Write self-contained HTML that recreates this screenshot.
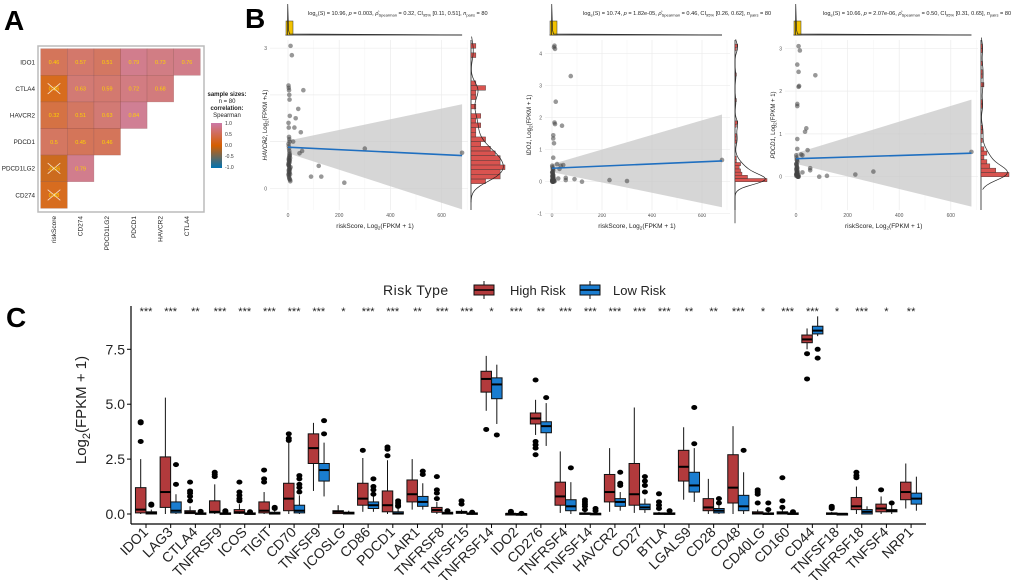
<!DOCTYPE html>
<html><head><meta charset="utf-8"><style>
html,body{margin:0;padding:0;background:#fff;}
svg{display:block;font-family:"Liberation Sans",sans-serif;}
</style></head><body>
<svg id="fig" width="1020" height="580" viewBox="0 0 1020 580" xmlns="http://www.w3.org/2000/svg">
<rect width="1020" height="580" fill="#fff"/>
<text x="4" y="30" font-size="28" font-weight="bold">A</text>
<text x="245" y="28" font-size="28" font-weight="bold">B</text>
<text x="6" y="327" font-size="28" font-weight="bold">C</text>
<g id="pa"></g>
<g id="pb"></g>
<g id="pc"></g>
</svg>
<script>
const NS="http://www.w3.org/2000/svg";
function mk(p,t,a){const e=document.createElementNS(NS,t);for(const k in a)e.setAttribute(k,a[k]);p.appendChild(e);return e;}

// ---------- Panel A data ----------
const heatRows=["IDO1","CTLA4","HAVCR2","PDCD1","PDCD1LG2","CD274"];
const heatCols=["riskScore","CD274","PDCD1LG2","PDCD1","HAVCR2","CTLA4"];
const heatVals=[[0.46,0.57,0.51,0.79,0.73,0.76],[0.06,0.63,0.59,0.72,0.68],[0.32,0.51,0.63,0.84],[0.5,0.45,0.46],[-0.06,0.79],[0.08]];
const heatCrossRows=[1,4,5];

// ---------- Panel B data ----------
const sc1X=[10,15,60,40,30,50,25,20,45,55,90,130,120,220,300,680,2,3,4,5,6,7,2,3,4,5,6,2,3,4,5,6,7,8,3,4,5,6,2,3,4,5,6,7,3,4,5,2,3,4,5,6,8,9,10,3,4,5,6,7,2,4,6,8];
const sc1Y=[3.05,2.85,2.1,1.7,1.5,1.2,1.3,1.0,0.75,0.8,0.25,0.25,0.48,0.12,0.85,0.76,2.2,2.15,2.1,2.0,1.9,1.55,1.4,1.3,1.1,1.05,1.0,0.95,0.9,0.85,0.8,0.75,0.7,0.65,0.62,0.6,0.58,0.55,0.52,0.5,0.48,0.45,0.42,0.4,0.38,0.35,0.32,0.3,0.28,0.25,0.22,0.2,0.18,0.15,0.45,0.55,0.65,0.68,0.72,0.6,0.5,0.4,0.35,0.3];
const sc2X=[8,10,12,75,15,10,12,40,5,5,8,5,20,35,45,30,25,55,55,90,120,230,300,680,1,2,3,4,5,1,2,3,4,5,1,2,3,4,5,1,2,3,4,5,1,2,3,4,5,1,2,3,4,5,6,7,8,9,10,2,3];
const sc2Y=[4.2,4.25,4.15,3.3,2.5,1.85,1.8,1.75,1.45,1.35,1.2,0.75,0.55,0.5,0.52,0.4,0.1,0.12,0.05,0.08,0,0.05,0.02,0.68,0.5,0.45,0.4,0.38,0.35,0.3,0.28,0.25,0.22,0.2,0.18,0.15,0.12,0.1,0.08,0.06,0.05,0.04,0.03,0.02,0.01,0,0,0,0,0.02,0.05,0.08,0.1,0.15,0.12,0.06,0.03,0.02,0.01,0.3,0.2];
const sc3X=[10,15,5,10,75,10,12,5,5,40,35,5,5,45,20,25,55,55,25,90,120,230,300,680,1,2,3,4,5,1,2,3,4,5,1,2,3,4,5,1,2,3,4,5,6,7,8,9,10,1,2,3,4,5,6,8,10,2,3];
const sc3Y=[3.05,2.95,2.62,2.45,2.37,2.1,2.12,1.7,1.65,1.13,1.05,0.88,0.65,0.62,0.52,0.5,0.2,0.15,0.1,0,0.02,0.05,0.12,0.58,0.5,0.45,0.4,0.38,0.35,0.3,0.28,0.25,0.22,0.2,0.18,0.15,0.12,0.1,0.08,0.06,0.05,0.04,0.03,0.02,0.01,0,0,0,0,0.02,0.05,0.08,0.1,0.15,0.12,0.06,0.03,0.3,0.2];
const fitStart=[0.88,0.42,0.42];
const fitEnd=[0.70,0.65,0.55];
const bandEndHi=[1.8,2.1,1.8];
const bandEndLo=[-0.45,-0.8,-0.7];
const bandStartHi=[1.02,0.55,0.55];
const bandStartLo=[0.75,0.3,0.3];
const statTexts=[["10.96","0.003","0.32","[0.11, 0.51]"],["10.74","1.82e-05","0.46","[0.26, 0.62]"],["10.66","2.07e-06","0.50","[0.31, 0.65]"]];
const yGenes=["HAVCR2","IDO1","PDCD1"];
const yTicks1=[0,1,2,3], yTicks2=[-1,0,1,2,3,4], yTicks3=[0,1,2,3];
const xTicksB=[0,200,400,600];

// ---------- Panel C data ----------
const genes=["IDO1","LAG3","CTLA4","TNFRSF9","ICOS","TIGIT","CD70","TNFSF9","ICOSLG","CD86","PDCD1","LAIR1","TNFRSF8","TNFSF15","TNFRSF14","IDO2","CD276","TNFRSF4","TNFSF14","HAVCR2","CD27","BTLA","LGALS9","CD28","CD48","CD40LG","CD160","CD44","TNFSF18","TNFRSF18","TNFSF4","NRP1"];
const sigLabels=["***","***","**","***","***","***","***","***","*","***","***","**","***","***","*","***","**","***","***","***","***","***","**","**","***","*","***","***","*","***","*","**"];
const highStats=[[0,0.05,0.2,1.2,2.5],[0,0.3,1.0,2.6,5.3],[0,0.02,0.08,0.15,0.35],[0,0.05,0.1,0.6,1.35],[0,0.03,0.08,0.2,0.45],[0,0.05,0.15,0.55,1.0],[0,0.15,0.7,1.4,3.3],[1.05,2.3,3.0,3.65,4.15],[0,0.02,0.1,0.15,0.4],[0.1,0.4,0.7,1.4,2.55],[0,0.1,0.4,1.05,2.45],[0.2,0.55,0.9,1.55,2.5],[0,0.08,0.18,0.3,0.55],[0,0.03,0.08,0.12,0.2],[4.7,5.55,6.15,6.5,7.2],[0,0,0.01,0.02,0.04],[3.6,4.1,4.35,4.6,5.2],[0.05,0.4,0.8,1.45,2.85],[0,0,0.02,0.05,0.1],[0.1,0.55,1.0,1.8,3.0],[0.05,0.4,0.9,2.3,4.85],[0,0,0.02,0.05,0.1],[0.65,1.5,2.15,2.9,3.95],[0,0.15,0.3,0.7,1.6],[0,0.5,1.2,2.7,4.0],[0,0,0.03,0.1,0.2],[0,0,0.05,0.1,0.25],[7.5,7.8,7.95,8.15,8.45],[0,0,0.02,0.05,0.1],[0,0.2,0.35,0.75,1.25],[0,0.1,0.25,0.45,0.8],[0.25,0.65,1.0,1.45,2.3]];
const lowStats=[[0,0,0.05,0.1,0.2],[0,0.05,0.15,0.55,0.9],[0,0,0.02,0.05,0.1],[0,0,0.02,0.05,0.08],[0,0,0.01,0.05,0.08],[0,0,0.02,0.08,0.2],[0,0.05,0.15,0.4,0.85],[0.8,1.5,2.0,2.3,3.25],[0,0,0.05,0.08,0.15],[0.1,0.25,0.4,0.55,1.0],[0,0,0.02,0.1,0.25],[0.2,0.35,0.55,0.8,1.4],[0,0,0.03,0.08,0.12],[0,0,0.02,0.05,0.06],[4.1,5.25,5.9,6.2,6.8],[0,0,0,0.01,0.02],[3.1,3.7,4.0,4.2,5.05],[0,0.15,0.35,0.65,1.45],[0,0,0.01,0.03,0.06],[0.15,0.35,0.55,0.7,1.0],[0.05,0.2,0.3,0.45,0.7],[0,0,0.01,0.05,0.08],[0.55,1.0,1.3,1.9,3.0],[0,0.05,0.15,0.25,0.4],[0,0.15,0.35,0.85,1.9],[0,0,0.01,0.05,0.1],[0,0,0.01,0.05,0.08],[8.1,8.2,8.35,8.55,9.0],[0,0,0.01,0.02,0.03],[0,0,0.1,0.2,0.35],[0,0.1,0.15,0.2,0.4],[0.15,0.45,0.7,0.95,1.7]];
const highOut=[[4.2,4.15,3.3],[],[1.45,1.05,0.95,0.8,0.6],[1.9,1.8,1.7],[1.45,1.0,0.85,0.7,0.6],[2.0,1.6,1.45],[3.65,3.45,3.35],[],[],[2.9],[3.05,2.95,2.65],[],[1.7,1.1,0.95,0.7],[0.6,0.45],[3.85],[0.12,0.08],[6.1,3.3,3.15,3.0,2.7],[],[0.65,0.55,0.45,0.35,0.2],[],[],[0.92,0.55,0.4,0.25],[],[],[],[1.1,1.0,0.9,0.5],[1.65,0.6,0.3],[7.3,6.15],[0.35,0.3,0.25],[1.9,1.75,1.65],[1.1],[]];
const lowOut=[[0.45,0.4],[2.25,1.35],[0.12],[0.15,0.1],[0.1],[0.3,0.25],[1.75,1.6,1.35,1.2,1.0],[4.25,3.65],[],[1.6,1.25,1.1,0.9],[0.6,0.5,0.4,0.35],[1.95,1.8],[0.15],[0.08],[3.6],[0.03],[5.3],[2.1],[0.25,0.15],[1.9,1.4,1.3],[1.7,1.5,1.3,1.0],[0.15],[4.85,3.2],[0.7,0.5],[2.9],[0.5,0.2],[0.1],[7.5,7.1],[],[],[0.5],[]];
const yTicksC=[0,2.5,5,7.5];
const yTickLabelsC=["0.0","2.5","5.0","7.5"];

// ===== Panel A =====
(function(){
 const g=document.getElementById('pa');
 const fr=mk(g,'rect',{x:38,y:46,width:166,height:166,fill:'none',stroke:'#bbb','stroke-width':1.5});
 
 const x0=40.7,y0=48.7,cs=26.6;
 function col(v){const a=[213,94,0],b=[204,121,167],c=[0,114,178];let t,p,q;if(v>=0){t=v;p=a;q=b;}else{t=-v;p=a;q=c;}
  return 'rgb('+p.map((x,i)=>Math.round(x+(q[i]-x)*t)).join(',')+')';}
 heatRows.forEach((r,i)=>{
  const t=mk(g,'text',{x:35,y:y0+cs*i+cs/2+2.3,'font-size':6.3,'text-anchor':'end',fill:'#222'});t.textContent=r;
  
  heatVals[i].forEach((v,j)=>{
   const x=x0+cs*j,y=y0+cs*i;
   const c=mk(g,'rect',{x:x,y:y,width:cs,height:cs,fill:col(v),stroke:'rgba(120,60,60,0.35)','stroke-width':0.6,opacity:0.92});
   
   if(j===0&&heatCrossRows.includes(i)){
    mk(g,'line',{x1:x+7,y1:y+8,x2:x+cs-7,y2:y+cs-8,stroke:'#fff','stroke-width':0.8,opacity:0.8});
    mk(g,'line',{x1:x+cs-7,y1:y+8,x2:x+7,y2:y+cs-8,stroke:'#fff','stroke-width':0.8,opacity:0.8});
   }
   const lt=mk(g,'text',{x:x+cs/2,y:y+cs/2+2,'font-size':5.5,'text-anchor':'middle',fill:'#FFD200'});lt.textContent=v;
   
  });
 });
 heatCols.forEach((c,j)=>{
  const x=x0+cs*j+cs/2+2;
  const t=mk(g,'text',{x:x,y:216,'font-size':6.5,'text-anchor':'end',fill:'#222',transform:'rotate(-90 '+x+' 216)'});t.textContent=c;
  
 });
 const lg=["sample sizes:","n = 80","correlation:","Spearman"];
 lg.forEach((s,i)=>{const t=mk(g,'text',{x:227,y:96+i*7,'font-size':6,'text-anchor':'middle','font-weight':i%2?'normal':'bold',fill:'#222'});t.textContent=s;
  });
 const defs=mk(g,'defs',{});const gr=mk(defs,'linearGradient',{id:'cbar',x1:0,y1:0,x2:0,y2:1});
 [[0,'rgb(204,121,167)'],[0.5,'rgb(213,94,0)'],[1,'rgb(0,114,178)']].forEach(s=>mk(gr,'stop',{offset:s[0],'stop-color':s[1]}));
 const cb=mk(g,'rect',{x:211,y:123,width:11,height:45,fill:'url(#cbar)'});
 
 ["1.0","0.5","0.0","-0.5","-1.0"].forEach((s,i)=>{const t=mk(g,'text',{x:225,y:125+i*11,'font-size':5,fill:'#333'});t.textContent=s;
  });
})();

// ===== Panel B =====
const plotsB=[
 {X:sc1X,Y:sc1Y,x0:288,xs:0.256,y0v:188.3,ys:46.7,top:40,bot:210,left:270,right:468,ht:yTicks1,hx:471,hw:34,yl:267},
 {X:sc2X,Y:sc2Y,x0:552,xs:0.25,y0v:181.7,ys:32,top:40,bot:210,left:545,right:730,ht:yTicks2,hx:735,hw:32,yl:531},
 {X:sc3X,Y:sc3Y,x0:796,xs:0.258,y0v:176.7,ys:42.8,top:40,bot:210,left:785,right:978,ht:yTicks3,hx:981,hw:28,yl:775}
];
plotsB.forEach((P,k)=>{
 const g=mk(document.getElementById('pb'),'g',{});
 
 const sx=v=>P.x0+v*P.xs, sy=v=>P.y0v-v*P.ys;
 xTicksB.forEach(v=>{mk(g,'line',{x1:sx(v),x2:sx(v),y1:P.top,y2:P.bot,stroke:'#ececec','stroke-width':0.7});
  mk(g,'line',{x1:sx(v+100),x2:sx(v+100),y1:P.top,y2:P.bot,stroke:'#f3f3f3','stroke-width':0.5});
  const t=mk(g,'text',{x:sx(v),y:P.bot+7,'font-size':5,'text-anchor':'middle',fill:'#555'});t.textContent=v;
  });
 P.ht.forEach(v=>{mk(g,'line',{x1:P.left,x2:P.right,y1:sy(v),y2:sy(v),stroke:'#ececec','stroke-width':0.7});
  const t=mk(g,'text',{x:P.left-3,y:sy(v)+2,'font-size':5,'text-anchor':'end',fill:'#555'});t.textContent=v;
  });
 const b=mk(g,'polygon',{points:[sx(0)+','+sy(bandStartHi[k]),sx(680)+','+sy(bandEndHi[k]),sx(680)+','+sy(bandEndLo[k]),sx(0)+','+sy(bandStartLo[k])].join(' '),fill:'#c8c8c8',opacity:0.75});
 
 P.X.forEach((x,i)=>{const c=mk(g,'circle',{cx:sx(x),cy:sy(P.Y[i]),r:2.3,fill:'#444',opacity:0.55});
  });
 const l=mk(g,'line',{x1:sx(0),y1:sy(fitStart[k]),x2:sx(680),y2:sy(fitEnd[k]),stroke:'#1f6fc0','stroke-width':1.6});
 
 mk(g,'line',{x1:sx(-10),x2:sx(680),y1:35,y2:35,stroke:'#222','stroke-width':0.8});
 const yb=mk(g,'rect',{x:sx(0)-2,y:21,width:7,height:14,fill:'#F2C200',stroke:'#333','stroke-width':0.5});
 
 mk(g,'polyline',{points:[sx(-2)+',35',sx(-1)+',4',sx(2)+',30',sx(6)+',34',sx(680)+',35'].join(' '),fill:'none',stroke:'#222','stroke-width':0.7});
 const bins={};P.Y.forEach(v=>{const b=Math.floor(v*10);bins[b]=(bins[b]||0)+1;});
 const mx=Math.max(...Object.values(bins));
 mk(g,'line',{x1:P.hx,x2:P.hx,y1:P.top,y2:P.bot,stroke:'#222','stroke-width':0.8});
 Object.keys(bins).forEach(bk=>{const n=bins[bk];const y1=sy((+bk+1)/10),h=sy(+bk/10)-y1;
  const r=mk(g,'rect',{x:P.hx,y:y1,width:P.hw*n/mx,height:h,fill:'#D9534F',stroke:'#333','stroke-width':0.4});
  });
 let pts=[];const lo=Math.min(...P.ht)-0.3,hi=Math.max(...P.Y)+0.2;
 let dmax=0;const ds=[];
 for(let v=lo;v<=hi;v+=0.05){let d=0;P.Y.forEach(y=>{d+=Math.exp(-((v-y)**2)/(2*0.15*0.15));});ds.push([v,d]);dmax=Math.max(dmax,d);}
 ds.forEach(([v,d])=>pts.push((P.hx+P.hw*0.95*d/dmax)+','+sy(v)));
 mk(g,'polyline',{points:pts.join(' '),fill:'none',stroke:'#222','stroke-width':0.7});
 const s=statTexts[k];
 const t=mk(g,'text',{x:P.left+38,y:15,'font-size':5.6,fill:'#222'});
 
 t.innerHTML='log<tspan font-size="4" dy="1.5">e</tspan><tspan dy="-1.5">(</tspan><tspan font-style="italic">S</tspan>) = '+s[0]+', <tspan font-style="italic">p</tspan> = '+s[1]+', <tspan font-style="italic">ρ̂</tspan><tspan font-size="4" dy="1.5">Spearman</tspan><tspan dy="-1.5"> = '+s[2]+', CI</tspan><tspan font-size="4" dy="1.5">95%</tspan><tspan dy="-1.5"> '+s[3]+', </tspan><tspan font-style="italic">n</tspan><tspan font-size="4" dy="1.5">pairs</tspan><tspan dy="-1.5"> = 80</tspan>';
 const xt=mk(g,'text',{x:(sx(0)+sx(680))/2,y:228,'font-size':6.5,'text-anchor':'middle',fill:'#222'});
 
 xt.innerHTML='riskScore, Log<tspan font-size="4.5" dy="1.5">2</tspan><tspan dy="-1.5">(FPKM + 1)</tspan>';
 const yt=mk(g,'text',{x:P.yl,y:125,'font-size':6,'text-anchor':'middle',fill:'#222',transform:'rotate(-90 '+P.yl+' 125)'});
 
 yt.innerHTML='<tspan font-style="italic">'+yGenes[k]+'</tspan>, Log<tspan font-size="4.5" dy="1.5">2</tspan><tspan dy="-1.5">(FPKM + 1)</tspan>';
});

// ===== Panel C =====
(function(){
 const g=document.getElementById('pc');
 const yS=v=>514-v*21.96;
 const xS=i=>146+i*24.68;
 const HC='#B23A3C',LC='#1A7DD0';
 mk(g,'line',{x1:131,x2:926,y1:524,y2:524,stroke:'#000','stroke-width':1.2});
 mk(g,'line',{x1:131,x2:131,y1:306,y2:524,stroke:'#000','stroke-width':1.2});
 yTicksC.forEach((v,i)=>{mk(g,'line',{x1:127,x2:131,y1:yS(v),y2:yS(v),stroke:'#000'});
  const t=mk(g,'text',{x:125,y:yS(v)+5,'font-size':14,'text-anchor':'end',fill:'#222'});t.textContent=yTickLabelsC[i];
  });
 const yt=mk(g,'text',{x:86,y:410,'font-size':15,'text-anchor':'middle',fill:'#222',transform:'rotate(-90 86 410)'});
 
 yt.innerHTML='Log<tspan font-size="11" dy="4">2</tspan><tspan dy="-4">(FPKM + 1)</tspan>';
 function box(cx,st,out,color,name){
  const bg=mk(g,'g',{});
  const w=10.5;
  mk(bg,'line',{x1:cx,x2:cx,y1:yS(st[0]),y2:yS(st[4]),stroke:'#111','stroke-width':1});
  mk(bg,'rect',{x:cx-w/2,y:yS(st[3]),width:w,height:Math.max(1.5,yS(st[1])-yS(st[3])),fill:color,stroke:'#111','stroke-width':1});
  mk(bg,'line',{x1:cx-w/2,x2:cx+w/2,y1:yS(st[2]),y2:yS(st[2]),stroke:'#000','stroke-width':2});
  out.forEach(o=>mk(bg,'ellipse',{cx:cx,cy:yS(o),rx:3,ry:2.5,fill:'#000'}));
 }
 genes.forEach((gn,i)=>{
  const x=xS(i);
  mk(g,'line',{x1:x,x2:x,y1:524,y2:528,stroke:'#000'});
  box(x-5.3,highStats[i],highOut[i],HC,'high-risk-box');
  box(x+5.3,lowStats[i],lowOut[i],LC,'low-risk-box');
  const s=mk(g,'text',{x:x,y:315,'font-size':11,'text-anchor':'middle',fill:'#222'});s.textContent=sigLabels[i];
  
  const t=mk(g,'text',{x:x+3,y:533,'font-size':14,'text-anchor':'end',fill:'#222',transform:'rotate(-45 '+(x+3)+' 533)'});t.textContent=gn;
  
 });
 const lt=mk(g,'text',{x:383,y:295,'font-size':14,fill:'#222','letter-spacing':'0.5'});lt.textContent='Risk Type';
 
 [[474,HC,'High Risk',510],[580,LC,'Low Risk',613]].forEach(([x,c,l,tx])=>{
  const e=mk(g,'g',{});
  
  
  mk(e,'line',{x1:x+10,x2:x+10,y1:281,y2:299,stroke:'#111'});
  mk(e,'rect',{x:x,y:285,width:20,height:10,fill:c,stroke:'#111'});
  mk(e,'line',{x1:x,x2:x+20,y1:290,y2:290,stroke:'#000','stroke-width':1.5});
  const t=mk(e,'text',{x:tx,y:295,'font-size':13,fill:'#222'});t.textContent=l;
 });
})();
</script>
</body></html>
